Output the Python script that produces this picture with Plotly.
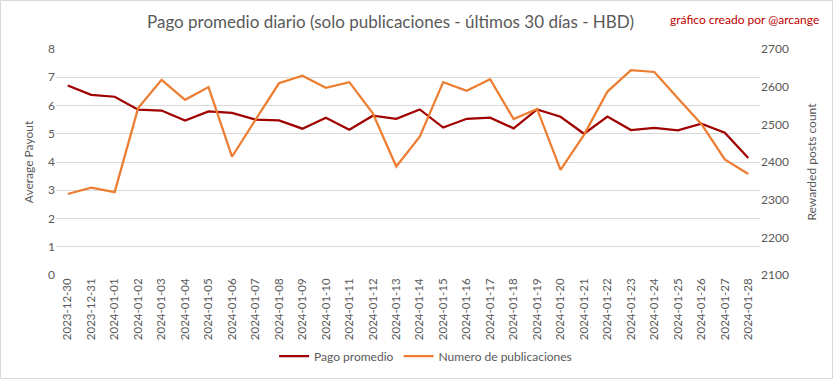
import plotly.graph_objects as go

dates = ["2023-12-30", "2023-12-31", "2024-01-01", "2024-01-02", "2024-01-03", "2024-01-04",
         "2024-01-05", "2024-01-06", "2024-01-07", "2024-01-08", "2024-01-09", "2024-01-10",
         "2024-01-11", "2024-01-12", "2024-01-13", "2024-01-14", "2024-01-15", "2024-01-16",
         "2024-01-17", "2024-01-18", "2024-01-19", "2024-01-20", "2024-01-21", "2024-01-22",
         "2024-01-23", "2024-01-24", "2024-01-25", "2024-01-26", "2024-01-27", "2024-01-28"]

pago_promedio = [6.71, 6.38, 6.31, 5.85, 5.82, 5.47, 5.79, 5.74, 5.50, 5.47,
                 5.18, 5.57, 5.14, 5.64, 5.53, 5.86, 5.22, 5.53, 5.57, 5.19,
                 5.86, 5.60, 5.00, 5.61, 5.13, 5.21, 5.12, 5.36, 5.04, 4.14]

num_publicaciones = [2315, 2332, 2320, 2543, 2618, 2565, 2599, 2414, 2512, 2609,
                     2629, 2597, 2612, 2529, 2388, 2467, 2612, 2589, 2620, 2514,
                     2541, 2379, 2472, 2587, 2644, 2639, 2569, 2501, 2407, 2368]

left_ticks = [0, 1, 2, 3, 4, 5, 6, 7, 8]
right_ticks = [2100, 2200, 2300, 2400, 2500, 2600, 2700]

W, H = 833, 379
ML, MR, MT, MB = 56, 73, 49, 104
pw, ph = W - ML - MR, H - MT - MB

def px(x):
    return (x - ML) / pw

def py(y):
    return (H - MB - y) / ph

grey = "#595959"
font = "Lato"

fig = go.Figure()
fig.add_trace(go.Scatter(x=dates, y=pago_promedio, name="Pago promedio", mode="lines",
                         line=dict(color="#A00000", width=2.25), yaxis="y"))
fig.add_trace(go.Scatter(x=dates, y=num_publicaciones, name="Numero de publicaciones", mode="lines",
                         line=dict(color="#ED7D31", width=2.25), yaxis="y2"))

fig.update_layout(
    width=W, height=H,
    margin=dict(l=ML, r=MR, t=MT, b=MB, autoexpand=False),
    paper_bgcolor="white", plot_bgcolor="white",
    font=dict(family=font, color=grey, size=12),
    showlegend=True,
    legend=dict(orientation="h", x=0.525, xanchor="center", y=py(356), yanchor="middle",
                font=dict(size=12, color=grey), itemwidth=30),
    xaxis=dict(type="category", tickangle=-90, showgrid=False, showline=False, ticks="",
               tickfont=dict(size=11.5, color=grey), range=[-0.5, 29.5], automargin=False),
    yaxis=dict(range=[0, 8], tickvals=left_ticks, showgrid=True, gridcolor="#D9D9D9", gridwidth=1,
               zeroline=False, ticks="", tickfont=dict(size=12, color=grey), automargin=False,
               title=dict(text="Average Payout", font=dict(size=12, color=grey), standoff=11)),
    yaxis2=dict(range=[2100, 2700], tickvals=right_ticks, overlaying="y", side="right",
                showgrid=False, zeroline=False, ticks="", tickfont=dict(size=12, color=grey),
                automargin=False,
                title=dict(text="Rewarded posts count", font=dict(size=12, color=grey), standoff=19)),
    annotations=[
        dict(text="Pago promedio diario (solo publicaciones - últimos 30 días - HBD)",
             xref="paper", yref="paper", x=px(390), y=py(21), xanchor="center", yanchor="middle",
             showarrow=False, font=dict(size=17, color=grey, family=font)),
        dict(text="gráfico creado por @arcange",
             xref="paper", yref="paper", x=px(821), y=py(20), xanchor="right", yanchor="middle",
             showarrow=False, font=dict(size=12, color="#C00000", family=font)),
    ],
    shapes=[
        dict(type="rect", xref="paper", yref="paper", x0=px(0.5), x1=px(W - 0.5),
             y0=py(0.5), y1=py(H - 0.5), line=dict(color="#D9D9D9", width=1), layer="below"),
    ],
)

fig.write_html("out.html", config={"displayModeBar": False},
               post_script="document.body.style.margin='0';document.body.style.overflow='hidden';")
